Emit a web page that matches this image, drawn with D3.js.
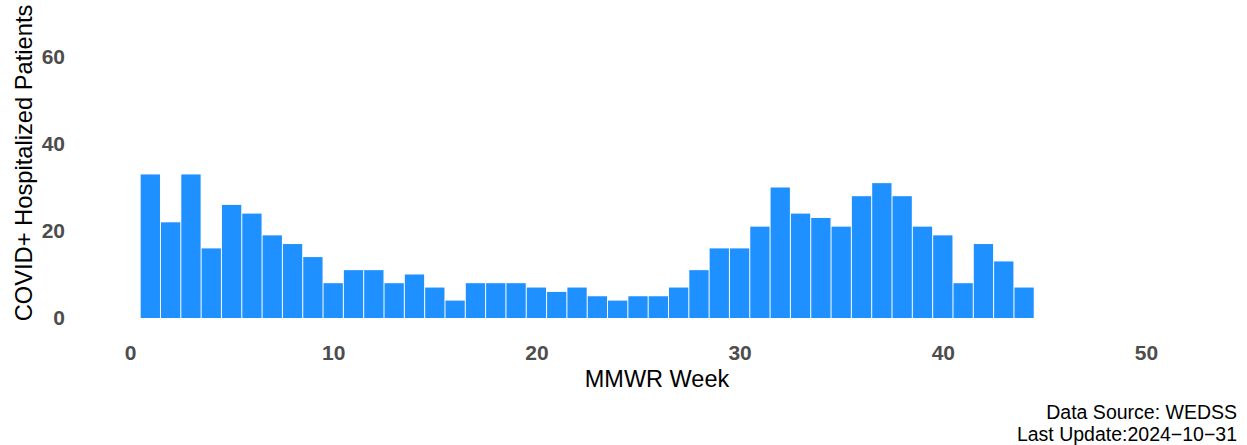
<!DOCTYPE html>
<html>
<head>
<meta charset="utf-8">
<script src="https://cdn.jsdelivr.net/npm/d3@7"></script>
<style>
  body { margin: 0; background: #fff; }
  text { font-family: "Liberation Sans", Arial, sans-serif; }
</style>
</head>
<body>
<div id="chart"></div>
<script>
// weekly counts, MMWR weeks 1..44
var weeks = d3.range(1, 45);
var patients = [33, 22, 33, 16, 26, 24, 19, 17, 14, 8,
                11, 11, 8, 10, 7, 4, 8, 8, 8, 7,
                6, 7, 5, 4, 5, 5, 7, 11, 16, 16,
                21, 30, 24, 23, 21, 28, 31, 28, 21, 19,
                8, 17, 13, 7];
var xTicks = [0, 10, 20, 30, 40, 50];
var yTicks = [0, 20, 40, 60];
var captionLines = ["Data Source: WEDSS", "Last Update:2024\u221210\u221231"];

var width = 1247, height = 445;

var svg = d3.select("#chart")
    .append("svg")
    .attr("width", width)
    .attr("height", height);

var x = d3.scaleLinear().domain([0, 50]).range([130, 1146]);
var y = d3.scaleLinear().domain([0, 60]).range([318, 57]);
var barW = (x(1) - x(0)) * 0.95;

//bars
svg.selectAll("rect.bar")
    .data(weeks)
    .enter()
    .append("rect")
    .attr("class", "bar")
    .attr("x", function(d){ return x(d) - barW / 2; })
    .attr("width", barW)
    .attr("y", function(d, i){ return y(patients[i]); })
    .attr("height", function(d, i){ return y(0) - y(patients[i]); })
    .attr("fill", "#1E90FF");

//x axis (labels only)
var xAxis = svg.append("g")
    .attr("transform", "translate(0,345)")
    .call(d3.axisBottom(x).tickValues(xTicks).tickSize(0).tickPadding(0).tickFormat(d3.format("d")));
xAxis.select(".domain").remove();
xAxis.selectAll("text")
    .attr("dy", "0.7em")
    .style("font-size", "21px")
    .style("font-weight", "bold")
    .attr("fill", "#4D4D4D");

//y axis (labels only)
var yAxis = svg.append("g")
    .attr("transform", "translate(65,0)")
    .call(d3.axisLeft(y).tickValues(yTicks).tickSize(0).tickPadding(0));
yAxis.select(".domain").remove();
yAxis.selectAll("text")
    .style("font-size", "21px")
    .style("font-weight", "bold")
    .attr("fill", "#4D4D4D");

//axis titles
svg.append("text")
    .attr("x", 657)
    .attr("y", 387)
    .attr("text-anchor", "middle")
    .style("font-size", "23.5px")
    .attr("fill", "#000")
    .text("MMWR Week");

svg.append("text")
    .attr("transform", "translate(32,163) rotate(-90)")
    .attr("text-anchor", "middle")
    .style("font-size", "23.7px")
    .attr("fill", "#000")
    .text("COVID+ Hospitalized Patients");

//caption
svg.selectAll("text.caption")
    .data(captionLines)
    .enter()
    .append("text")
    .attr("class", "caption")
    .attr("x", 1237)
    .attr("y", function(d, i){ return 419 + i * 21.5; })
    .attr("text-anchor", "end")
    .style("font-size", "19.5px")
    .attr("fill", "#000")
    .text(function(d){ return d; });
</script>
</body>
</html>
